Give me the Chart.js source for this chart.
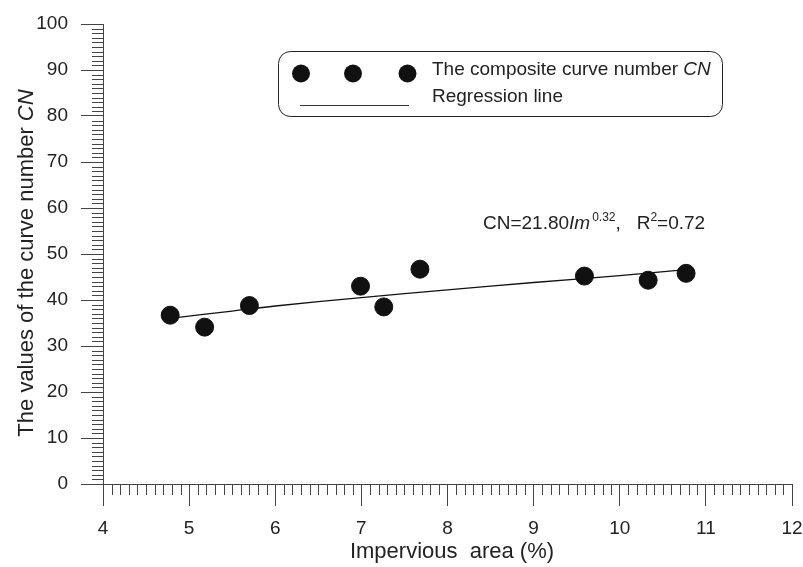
<!DOCTYPE html>
<html><head><meta charset="utf-8">
<script src="https://cdn.jsdelivr.net/npm/chart.js@4/dist/chart.umd.min.js"></script>
<style>html,body{margin:0;padding:0;background:#fff}#wrap{width:803px;height:567px}</style>
</head><body><div id="wrap"><canvas id="c" width="803" height="567"></canvas></div>
<script>
const imperviousArea = [4.78, 5.18, 5.70, 6.99, 7.26, 7.68, 9.59, 10.33, 10.77];
const curveNumber = [36.7, 34.1, 38.8, 43.0, 38.5, 46.7, 45.2, 44.3, 45.8];
const regressionX = [4.78, 5.5, 6, 7, 8, 9, 10, 10.77];
const regressionY = [36.0, 37.6, 38.7, 40.5, 42.2, 43.8, 45.3, 46.6];
const xTicks = [4, 5, 6, 7, 8, 9, 10, 11, 12];
const yTicks = [0, 10, 20, 30, 40, 50, 60, 70, 80, 90, 100];
const legendLabels = ['The composite curve number ', 'Regression line'];
const xTitle = 'Impervious  area (%)';
const yTitle = 'The values of the curve number ';
const FONT = '"Liberation Sans", Arial, sans-serif';
const AXIS = '#444';

const decor = {
  id: 'decor',
  afterDraw(chart) {
    const ctx = chart.ctx, xs = chart.scales.x, ys = chart.scales.y;
    ctx.save();
    // minor ticks
    ctx.strokeStyle = AXIS; ctx.lineWidth = 1;
    ctx.beginPath();
    for (let i = 40; i <= 120; i++) {
      if (i % 10 === 0) continue;
      const px = Math.round(xs.getPixelForValue(i / 10)) + 0.5;
      ctx.moveTo(px, ys.bottom); ctx.lineTo(px, ys.bottom + 11);
    }
    for (let v = 0; v <= 100; v++) {
      if (v % 10 === 0) continue;
      const py = Math.round(ys.getPixelForValue(v)) + 0.5;
      ctx.moveTo(xs.left, py); ctx.lineTo(xs.left - 11, py);
    }
    ctx.stroke();
    // axis titles
    ctx.fillStyle = '#222';
    ctx.font = '22px ' + FONT;
    ctx.textBaseline = 'middle';
    ctx.textAlign = 'center';
    ctx.fillText(xTitle, 452, 552);
    // y title rotated with italic CN
    ctx.save();
    ctx.translate(27, 263);
    ctx.rotate(-Math.PI / 2);
    ctx.font = '22px ' + FONT;
    const w1 = ctx.measureText(yTitle).width;
    ctx.font = 'italic 22px ' + FONT;
    const w2 = ctx.measureText('CN').width;
    ctx.textAlign = 'left';
    ctx.font = '22px ' + FONT;
    ctx.fillText(yTitle, -(w1 + w2) / 2, 0);
    ctx.font = 'italic 22px ' + FONT;
    ctx.fillText('CN', -(w1 + w2) / 2 + w1, 0);
    ctx.restore();
    // legend box
    ctx.strokeStyle = '#222'; ctx.lineWidth = 1;
    ctx.beginPath();
    ctx.roundRect(278.5, 51.5, 444, 65, 12);
    ctx.stroke();
    ctx.fillStyle = '#111';
    [301, 353, 407.5].forEach(cx => { ctx.beginPath(); ctx.arc(cx, 73.5, 9, 0, Math.PI * 2); ctx.fill(); });
    ctx.beginPath(); ctx.moveTo(300, 105.5); ctx.lineTo(409, 105.5); ctx.strokeStyle = '#333'; ctx.stroke();
    ctx.fillStyle = '#222';
    ctx.textAlign = 'left';
    ctx.textBaseline = 'alphabetic';
    ctx.font = '19px ' + FONT;
    ctx.fillText(legendLabels[0], 432, 75);
    const lw = ctx.measureText(legendLabels[0]).width;
    ctx.font = 'italic 19px ' + FONT;
    ctx.fillText('CN', 432 + lw, 75);
    ctx.font = '19px ' + FONT;
    ctx.fillText(legendLabels[1], 432, 102);
    // annotation
    let x = 483; const by = 229;
    const seg = (t, f, dy) => { ctx.font = f; ctx.fillText(t, x, by + (dy || 0)); x += ctx.measureText(t).width; };
    seg('CN=21.80', '19px ' + FONT);
    seg('Im', 'italic 19px ' + FONT);
    x += 2;
    seg('0.32', '12px ' + FONT, -8);
    seg(',   R', '19px ' + FONT);
    seg('2', '12px ' + FONT, -8);
    seg('=0.72', '19px ' + FONT);
    ctx.restore();
  }
};

new Chart(document.getElementById('c'), {
  type: 'scatter',
  data: {
    datasets: [
      { label: 'Regression line', type: 'line', data: regressionX.map((x, i) => ({ x, y: regressionY[i] })),
        borderColor: '#111', borderWidth: 1.3, pointRadius: 0, tension: 0.4, fill: false },
      { label: 'The composite curve number CN', data: imperviousArea.map((x, i) => ({ x, y: curveNumber[i] })),
        backgroundColor: '#111', borderColor: '#111', pointRadius: 9, pointHoverRadius: 9 }
    ]
  },
  options: {
    responsive: false, animation: false, events: [],
    layout: { padding: { top: 24, right: 0, left: 0, bottom: 0 } },
    plugins: { legend: { display: false }, tooltip: { enabled: false } },
    scales: {
      x: {
        type: 'linear', min: 4, max: 12,
        afterBuildTicks: s => { s.ticks = xTicks.map(v => ({ value: v })); },
        afterFit: s => { s.height = 83; s.paddingLeft = 0; s.paddingRight = 11; },
        grid: { drawOnChartArea: false, drawTicks: true, tickLength: 22, color: AXIS, tickWidth: 1 },
        border: { display: true, color: AXIS, width: 1 },
        ticks: { color: '#222', font: { family: FONT, size: 19 }, padding: 11, maxRotation: 0, autoSkip: false }
      },
      y: {
        min: 0, max: 100,
        afterBuildTicks: s => { s.ticks = yTicks.map(v => ({ value: v })); },
        afterFit: s => { s.width = 103; s.paddingTop = 0; s.paddingBottom = 0; },
        grid: { drawOnChartArea: false, drawTicks: true, tickLength: 22, color: AXIS, tickWidth: 1 },
        border: { display: true, color: AXIS, width: 1 },
        ticks: { color: '#222', font: { family: FONT, size: 19 }, padding: 13, autoSkip: false }
      }
    }
  },
  plugins: [decor]
});
</script></body></html>
